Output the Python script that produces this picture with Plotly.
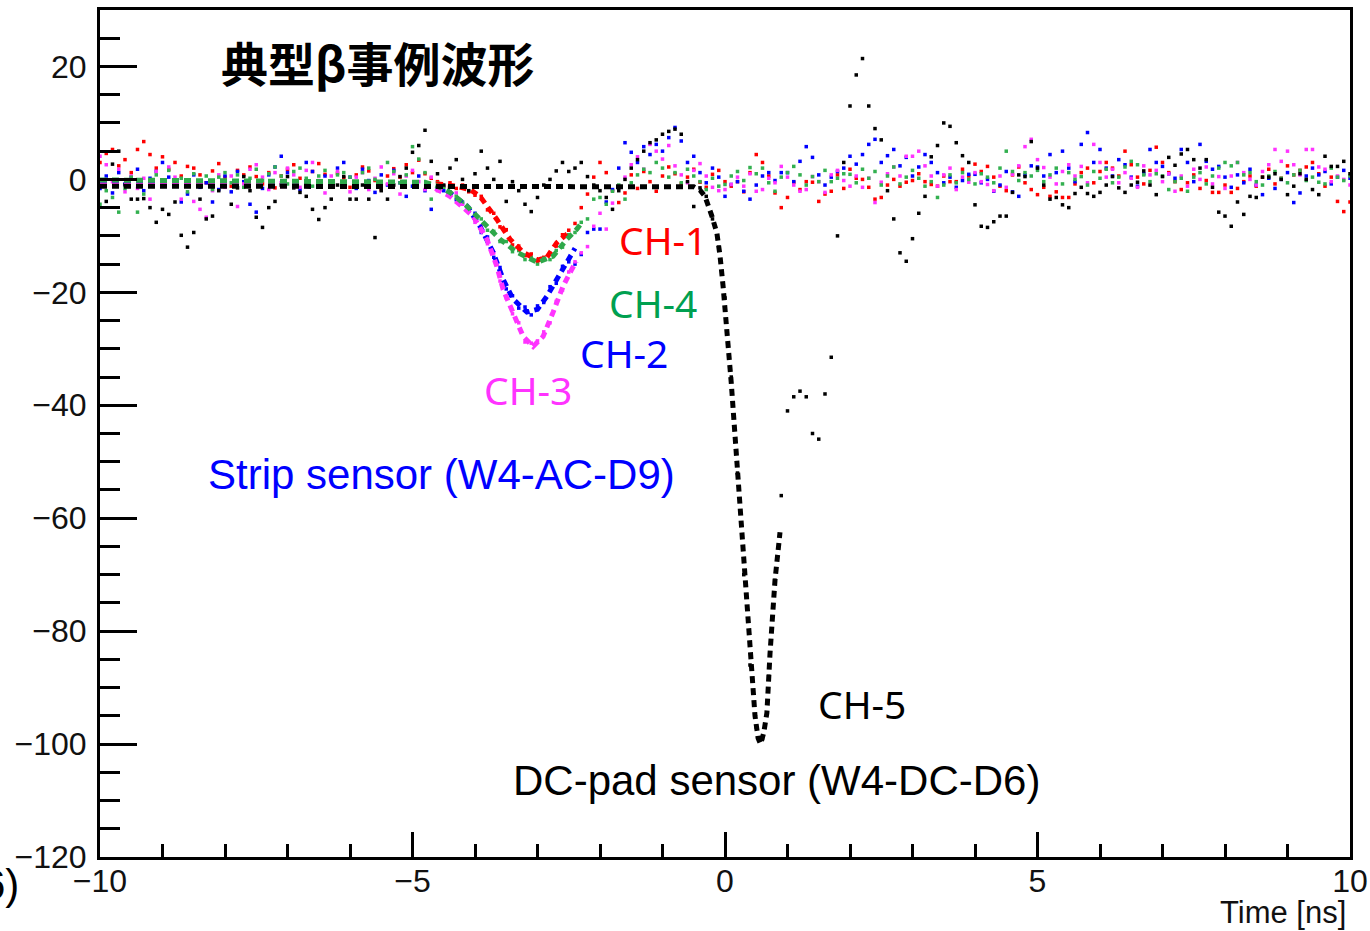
import plotly.graph_objects as go

# ---------------- data ----------------
# sampling clock of the scope (ns)
time_ns = [round(-10 + 0.1 * i, 1) for i in range(201)]

ch1_raw = [  # red
    3.0, 4.6, 5.3, 2.4, 3.5, 1.2, 5.3, 6.7, 4.4, 2.0,
    4.0, 1.8, 3.0, 0.6, 2.3, 2.0, 0.8, -0.6, 1.5, 2.8,
    0.4, -1.2, 1.6, 0.8, 2.2, 0.5, -0.8, 1.2, -1.5, 0.6,
    1.8, 2.6, 0.2, -1.0, 1.4, 2.8, 0.9, -0.5, 1.1, 0.3,
    -1.4, 0.8, 2.2, 1.5, -0.2, -1.8, 0.6, 1.9, 0.4, 2.6,
    1.2, 3.4, 1.0, 0.2, -0.4, -1.2, -0.6, -1.6, -1.0, -2.2,
    -2.8, -3.0, -5.4, -6.0, -8.4, -8.9, -11.6, -11.8, -13.5, -13.2,
    -14.6, -13.8, -13.1, -11.8, -9.8, -9.0, -7.8, -5.0, -2.6, 0.4,
    3.0, 1.2, -2.0, -4.1, -2.4, 0.8, -1.6, 1.4, -0.4, -2.1,
    0.6, 2.2, 1.0, -0.8, 0.4, 1.8, -0.5, -1.4, 0.9, 1.6,
    -0.4, -1.2, -0.4, -2.2, 1.2, 4.4, 3.0, 0.6, -2.4, -5.0,
    -3.2, -0.5, -1.8, -0.4, -0.5, -3.9, -2.6, -2.1, 0.8, -1.6,
    1.8, 0.2, 0.0, -1.4, -3.5, -3.2, -1.0, 0.0, -1.2, -0.5,
    -0.2, 1.0, -0.4, -0.9, -1.2, 0.6, -0.4, -0.4, 1.8, 0.6,
    2.7, 1.4, 2.3, 0.4, -1.2, -2.0, 0.8, 2.2, -0.6, -1.8,
    -2.7, -1.4, -3.0, -2.2, -3.2, -3.2, -0.8, 1.2, 2.0, -0.6,
    1.4, 3.0, 2.0, 0.6, 5.0, 2.6, 0.4, -0.8, 1.6, 5.7,
    3.0, 1.2, -0.4, -1.8, -0.6, 0.8, -1.6, -0.2, -2.3, -2.3,
    -1.0, -2.3, -1.6, -0.4, 0.6, -1.2, 0.4, 1.8, -0.8, 0.2,
    2.4, 0.8, 1.6, 2.2, 3.0, 1.0, -1.2, 0.4, -3.9, -5.7,
    -4.0,
]

ch2_raw = [  # blue
    -1.6, 0.6, -2.4, 1.2, -0.8, 0.4, 1.8, -2.0, 0.2, 1.4,
    3.0, 0.4, -1.2, -4.0, -2.6, 0.8, -1.4, -0.6, -4.0, -1.8,
    0.6, -2.2, 1.4, -0.4, -4.4, -5.8, -1.6, 0.8, 2.2, 4.1,
    1.2, -0.6, -1.8, 3.0, 1.4, -0.8, 0.6, -1.2, 2.0, 3.0,
    0.4, -1.6, 1.8, -0.2, -2.3, 0.8, -1.0, 1.6, -0.6, -3.0,
    -1.2, 0.6, -2.0, -5.3, -1.4, -2.0, -2.4, -3.6, -4.2, -5.0,
    -6.0, -9.4, -10.2, -13.8, -15.6, -19.4, -20.6, -22.8, -22.6, -24.0,
    -22.4, -21.8, -19.0, -18.4, -15.4, -14.6, -15.0, -13.3, -9.4, -8.8,
    -8.8, -4.0, -1.8, 2.0, 6.5, 4.8, 3.0, 5.8, 4.4, 6.2,
    5.0, 7.4, 9.2, 6.8, 3.0, 4.1, 1.2, -0.6, 2.0, 0.4,
    -3.0, -0.9, -0.4, -2.1, -3.5, -1.0, 0.6, 1.2, -0.2, 1.2,
    1.2, -0.4, 3.2, 5.8, 3.9, 0.8, -1.0, 0.4, 1.4, 2.0,
    4.1, 2.7, 4.4, 6.2, 7.1, 3.0, 4.2, 5.3, 2.4, 3.9,
    0.6, 2.2, 4.4, 3.0, 1.2, -0.6, 0.4, -1.4, -0.2, 0.9,
    0.9, -0.6, 0.0, -2.1, -1.0, 1.4, -2.2, -3.0, 0.8, 2.4,
    2.2, 0.6, 4.4, 1.2, 5.0, 2.0, -0.4, 6.2, 8.3, 3.0,
    5.3, 2.0, 0.6, 3.5, 2.6, 0.4, -1.2, 1.0, 5.3, 3.0,
    2.3, 1.0, 0.2, 5.3, 3.0, -0.4, 6.2, 3.2, 1.8, 2.3,
    0.4, -1.4, 0.8, -0.6, 1.8, -1.0, -2.7, 0.2, -1.6, 0.0,
    1.2, -4.1, -2.4, 0.6, 2.0, 0.8, 1.4, -0.8, 0.4, 1.6,
    0.2,
]

ch3_raw = [  # magenta
    4.1, 2.6, -0.4, 1.8, -2.2, 0.6, -1.6, 0.2, -3.5, 1.4,
    -1.0, 2.2, 0.4, -3.5, -1.2, -3.9, -5.3, -6.7, -2.0, 0.8,
    -1.4, 0.6, -4.8, -0.8, 1.8, 2.6, 0.4, -1.8, 1.2, -0.6,
    2.0, 0.8, -1.4, 1.6, 3.0, -0.2, -2.4, 0.6, 1.4, -1.0,
    -2.2, 0.4, 1.2, -1.8, 0.2, 2.2, -0.8, 1.0, -2.6, 0.6,
    1.6, -0.4, -1.8, 0.4, -2.0, -1.2, -3.0, -2.4, -4.4, -5.4,
    -7.6, -8.2, -11.4, -13.0, -18.0, -21.0, -23.8, -25.4, -28.8, -29.0,
    -28.6, -27.0, -25.4, -21.6, -19.6, -16.4, -14.6, -13.0, -11.9, -8.3,
    -6.0, -8.8, -4.2, -1.6, 0.4, 2.6, 4.0, 1.8, 6.2, 5.0,
    3.6, 6.0, 2.4, 0.8, -0.6, 1.6, 2.8, 0.6, -1.4, -2.0,
    -1.8, -0.9, 0.4, -1.2, 1.0, -2.1, -1.8, 0.2, -0.6, 2.3,
    0.4, -1.0, -2.1, -1.8, 0.5, -0.4, -2.3, 0.8, 1.6, -0.2,
    -1.2, 0.6, -1.4, 0.2, -4.1, -0.5, 1.0, 2.2, 0.6, 4.1,
    4.1, 5.0, 2.4, 0.6, -1.2, 0.8, 2.0, -1.8, 0.4, -0.5,
    1.2, -0.4, -0.9, -2.0, 0.6, -1.4, 0.9, 2.4, 5.8, 7.1,
    3.5, 2.1, 0.4, -0.8, 1.4, 2.6, 0.6, 2.3, -0.6, 6.2,
    3.0, 0.4, 1.8, -0.6, 1.2, 0.2, -1.4, 2.4, 0.8, 1.6,
    -0.4, 1.0, -2.1, 0.6, -1.2, 1.8, 0.0, 2.2, -0.8, 0.5,
    -1.6, 0.6, 3.0, 1.2, 0.0, -1.0, 1.4, 2.6, 5.3, 3.2,
    5.0, 2.6, 0.8, 5.3, 5.3, 2.2, 1.8, -0.4, 0.6, 0.0,
    -1.0,
]

ch4_raw = [  # green
    -4.4, -2.0, -3.2, -5.8, -1.6, 0.4, -5.8, -2.6, -1.2, 0.8,
    -0.4, 1.6, -1.0, 0.2, -2.2, 1.0, -0.8, 0.6, -1.8, 0.4,
    1.2, -0.6, 0.8, -1.4, 0.2, 1.8, -0.2, 1.0, 2.2, 0.6,
    -0.8, 1.4, 2.0, 0.2, -1.2, 0.6, 1.6, -0.4, 0.8, 1.2,
    0.4, -1.0, 1.2, 2.0, 0.0, -0.8, 3.0, 1.4, -0.6, 0.8,
    5.8, 3.6, 1.2, -3.5, -0.6, -1.4, -2.2, -3.0, -4.0, -5.6,
    -6.8, -7.0, -9.0, -9.2, -11.0, -11.0, -12.8, -12.6, -14.2, -13.8,
    -15.0, -14.0, -14.2, -12.6, -12.0, -9.8, -9.4, -7.6, -7.0, -3.5,
    -3.2, -4.4, -2.1, -1.0, -3.5, -0.6, 0.8, 1.8, 1.2, 3.0,
    2.0, 0.4, 1.2, -0.6, 1.8, 0.6, -0.4, -1.8, 0.2, -1.2,
    -0.9, 0.6, 1.4, -0.2, 2.1, 1.0, 2.0, -0.6, -2.1, 0.4,
    1.2, 2.3, 0.8, -1.0, 0.5, -0.4, 1.6, -0.4, 0.2, 1.0,
    0.9, -0.6, 1.8, 0.2, 1.4, -1.0, 0.6, 2.2, -0.8, 0.4,
    1.6, 0.2, -1.2, -0.4, -3.2, -1.0, 0.8, -0.6, 1.2, 0.0,
    -0.8, 1.0, 0.4, -0.6, 2.0, 5.0, 1.4, -0.2, 1.2, 0.6,
    1.6, -0.4, 0.8, 2.0, -0.8, 1.2, 0.0, 0.5, -1.0, 1.4,
    0.2, 1.8, -0.6, 0.4, 2.2, 3.2, 2.6, 0.8, -0.4, 1.0,
    0.6, -1.8, -0.4, 0.2, -2.1, 0.4, 1.2, -0.8, 0.6, 2.0,
    3.0, 2.4, 3.0, 0.8, 1.2, -0.4, -1.0, 0.6, 1.4, 0.2,
    -0.6, 0.8, 1.6, -0.2, 0.4, -0.5, -0.8, 2.0, 0.4, -0.2,
    0.6,
]

ch5_raw = [  # black, DC-pad
    -1.0, -3.9, 2.7, 5.0, -1.0, -3.5, -3.5, -3.4, -5.0, -7.6,
    -5.3, -6.2, -4.0, -9.9, -12.0, -9.4, -3.5, -7.0, -6.5, -2.0,
    -1.0, -4.4, -1.5, 0.5, -2.0, -6.7, -8.5, -5.0, -3.9, -1.0,
    0.5, -1.5, -2.3, -3.0, -5.3, -7.1, -5.0, -3.5, -1.0, 0.5,
    -3.5, -3.5, -1.0, -3.5, -10.3, -2.0, -3.5, -1.0, 0.5, 2.0,
    4.8, 6.0, 8.7, 3.2, 1.0, -1.0, 2.0, 3.5, 0.0, -2.0,
    1.0, 5.0, 2.0, 0.0, 3.2, -3.9, -0.4, -2.0, -4.4, -5.7,
    -3.2, -1.0, 0.0, 1.5, 3.0, 1.4, 2.0, 3.0, 0.5, -1.0,
    -2.0, -3.2, -5.3, -2.0, 0.0, 2.0, 3.5, 5.0, 6.5, 7.0,
    8.0, 8.5, 8.9, 8.0, -0.4, -4.8, -1.5, -3.0, -7.0, -12.0,
    -21.0, -35.0, -52.0, -70.0, -86.0, -97.0, -99.0, -88.0, -71.0, -56.0,
    -41.0, -38.5, -37.5, -38.5, -45.0, -46.0, -38.0, -31.5, -10.0, 3.0,
    13.0, 18.5, 21.4, 13.0, 9.0, 7.0, -2.0, -7.0, -13.0, -14.5,
    -10.5, -6.0, -3.0, 4.0, 6.0, 10.0, 9.4, 6.5, 4.2, 3.0,
    -4.5, -8.3, -8.5, -7.5, -6.5, -6.5, -2.3, 0.8, 0.5, 6.7,
    2.0, -1.0, -3.5, -3.2, -4.5, -5.0, -2.5, -1.4, -2.5, -3.0,
    -2.3, -1.0, 0.5, -1.5, -2.3, -1.0, -0.5, 1.5, -1.0, -2.7,
    0.5, 3.9, 2.5, 4.5, 5.3, 3.5, 2.0, 3.5, -1.4, -5.8,
    -6.5, -8.3, -4.0, -6.2, -3.0, -3.2, 0.4, 0.4, 1.0, 0.0,
    -2.7, -1.2, 1.0, 0.0, -1.8, -2.7, 4.1, 2.3, 2.3, 3.2,
    1.0,
]

# fitted pulse shapes
fit1_t = [-10.0, -4.6, -4.3, -4.08, -3.92, -3.78, -3.65, -3.44, -3.23, -3.0, -2.85, -2.69, -2.59, -2.48]
fit1_v = [-0.5, -0.8, -1.2, -1.8, -3.0, -5.0, -7.1, -10.6, -12.9, -14.3, -13.8, -11.2, -10.1, -9.2]

fit2_t = [-10.0, -4.7, -4.45, -4.13, -3.92, -3.71, -3.55, -3.39, -3.17, -3.0, -2.85, -2.69, -2.59, -2.48, -2.4]
fit2_v = [-0.8, -1.0, -2.0, -4.7, -8.3, -12.9, -17.7, -21.2, -23.5, -23.0, -20.7, -17.7, -15.9, -13.6, -12.2]

fit3_t = [-10.0, -4.7, -4.4, -4.03, -3.81, -3.65, -3.55, -3.39, -3.23, -3.07, -2.91, -2.75, -2.59, -2.45, -2.38]
fit3_v = [-1.0, -1.2, -3.0, -6.5, -10.6, -15.4, -19.5, -23.5, -27.8, -29.6, -27.8, -23.5, -18.9, -15.9, -14.5]

fit4_t = [-10.0, -4.8, -4.6, -4.4, -4.15, -3.92, -3.6, -3.33, -3.0, -2.75, -2.53, -2.37, -2.3]
fit4_v = [-0.1, -0.5, -1.2, -2.3, -4.5, -7.1, -10.6, -12.9, -14.7, -13.6, -10.6, -8.8, -7.8]

fit5_t = [-10.0, -0.5, -0.4, -0.32, -0.21, -0.13, -0.08, -0.03, 0.1, 0.21, 0.35, 0.48, 0.53, 0.57, 0.62, 0.67, 0.72, 0.8, 0.88]
fit5_v = [-1.2, -1.3, -1.9, -3.0, -6.5, -9.5, -13.5, -19.0, -36.0, -53.0, -76.5, -95.0, -99.0, -100.0, -98.0, -94.5, -84.0, -71.0, -62.5]

x_ticks = [-10, -5, 0, 5, 10]
y_ticks = [-120, -100, -80, -60, -40, -20, 0, 20]

RED, BLUE, MAG, GRN, BLK = "#FF0000", "#0000FF", "#FF33FF", "#33B050", "#000000"

fig = go.Figure()

raw = [(ch1_raw, RED), (ch2_raw, BLUE), (ch3_raw, MAG), (ch4_raw, GRN), (ch5_raw, BLK)]
for vals, col in raw:
    fig.add_trace(go.Scatter(x=time_ns, y=vals, mode="markers",
                             marker=dict(symbol="square", size=3.5, color=col, line=dict(width=0)),
                             showlegend=False, hoverinfo="skip"))

fits = [(fit1_t, fit1_v, RED), (fit2_t, fit2_v, BLUE), (fit3_t, fit3_v, MAG),
        (fit4_t, fit4_v, "#2EA84A"), (fit5_t, fit5_v, BLK)]
for t, v, col in fits:
    fig.add_trace(go.Scatter(x=t, y=v, mode="lines",
                             line=dict(color=col, width=5, dash="7px,5px"),
                             showlegend=False, hoverinfo="skip"))

LAB = "Noto Sans"
ARIAL = "Liberation Sans"
ann = [
    dict(x=-0.99, y=-10.6, text="CH-1", font=dict(family=LAB, size=39, color=RED)),
    dict(x=-1.15, y=-21.8, text="CH-4", font=dict(family=LAB, size=39, color="#00A050")),
    dict(x=-1.62, y=-30.6, text="CH-2", font=dict(family=LAB, size=39, color=BLUE)),
    dict(x=-3.16, y=-37.2, text="CH-3", font=dict(family=LAB, size=39, color=MAG)),
    dict(x=-4.54, y=-52.2, text="Strip sensor (W4-AC-D9)", font=dict(family=ARIAL, size=42, color=BLUE)),
    dict(x=2.19, y=-92.9, text="CH-5", font=dict(family=LAB, size=39, color=BLK)),
    dict(x=0.82, y=-106.5, text="DC-pad sensor (W4-DC-D6)", font=dict(family=ARIAL, size=42, color=BLK)),
    dict(x=-8.1, y=20.8, text="<b>典型β事例波形</b>", xanchor="left",
         font=dict(family="Noto Sans CJK JP", size=47, color=BLK)),
]
for a in ann:
    a.setdefault("xanchor", "center")
    fig.add_annotation(xref="x", yref="y", showarrow=False, yanchor="middle", **a)

fig.add_annotation(xref="paper", yref="paper", x=0.998, y=-0.066, text="Time [ns]",
                   showarrow=False, xanchor="right", yanchor="middle",
                   font=dict(family=ARIAL, size=31, color="#111"))
fig.add_annotation(xref="paper", yref="paper", x=(21 - 100) / 1250, y=(857 - 885) / 847, text="6)",
                   showarrow=False, xanchor="right", yanchor="middle",
                   font=dict(family=ARIAL, size=42, color=BLK))

fig.update_layout(
    width=1370, height=931,
    margin=dict(l=100, r=20, t=10, b=74, autoexpand=False),
    paper_bgcolor="white", plot_bgcolor="white",
    showlegend=False,
)
fig.update_xaxes(
    range=[-10, 10], tickvals=x_ticks, ticks="inside", ticklen=25, tickwidth=3, tickcolor="black",
    showline=True, linewidth=3, linecolor="black", mirror=True, showgrid=False, zeroline=False,
    automargin=False,
    tickfont=dict(family=ARIAL, size=32, color="#111"), ticklabelstandoff=-6,
    minor=dict(dtick=1, tick0=0, ticks="inside", ticklen=13, tickwidth=3, tickcolor="black", showgrid=False),
)
fig.update_yaxes(
    range=[-120, 30], tickvals=y_ticks, ticks="inside", ticklen=37, tickwidth=3, tickcolor="black",
    showline=True, linewidth=3, linecolor="black", mirror=True, showgrid=False, zeroline=False,
    automargin=False,
    tickfont=dict(family=ARIAL, size=32, color="#111"), ticklabelstandoff=4,
    minor=dict(dtick=5, tick0=0, ticks="inside", ticklen=20, tickwidth=3, tickcolor="black", showgrid=False),
)

fig.write_html("out.html")
